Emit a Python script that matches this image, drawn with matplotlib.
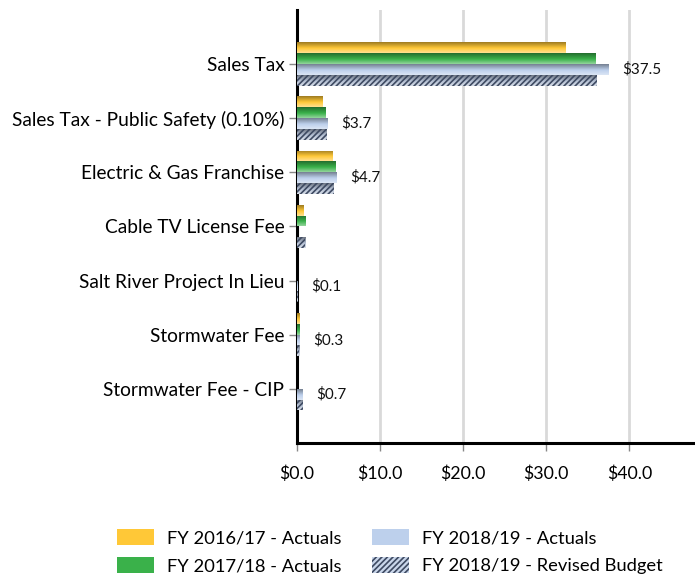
import matplotlib
matplotlib.use("Agg")
import matplotlib.pyplot as plt
import numpy as np
from matplotlib.colors import to_rgb
from matplotlib.patches import Patch

plt.rcParams['font.family'] = ['Lato', 'DejaVu Sans']

categories = ['Sales Tax', 'Sales Tax - Public Safety (0.10%)', 'Electric & Gas Franchise',
              'Cable TV License Fee', 'Salt River Project In Lieu', 'Stormwater Fee',
              'Stormwater Fee - CIP']
fy17_actual = [32.3, 3.1, 4.3, 0.8, 0.0, 0.3, 0.0]
fy18_actual = [35.9, 3.4, 4.6, 1.0, 0.0, 0.3, 0.0]
fy19_actual = [37.5, 3.7, 4.7, np.nan, 0.1, 0.3, 0.7]
fy19_budget = [36.1, 3.6, 4.4, 1.0, 0.1, 0.3, 0.7]
series_names = ['FY 2016/17 - Actuals', 'FY 2017/18 - Actuals',
                'FY 2018/19 - Actuals', 'FY 2018/19 - Revised Budget']
xticks = [0, 10, 20, 30, 40]

colors = ['#FFC837', '#3AB14A', '#BDD0EC', '#B4C0D4']
hatch_color = '#3E4A62'


def gradient_fill(ax, bar, base):
    # Excel-like shading: lighter top, darker bottom
    c = np.array(to_rgb(base))
    top = c + (1 - c) * 0.45
    bot = c * 0.62
    n = 32
    t = np.linspace(0, 1, n)[:, None]
    first = np.clip(top + (c - top) * np.clip(t / 0.45, 0, 1), 0, 1)
    second = np.clip(c + (bot - c) * np.clip((t - 0.45) / 0.55, 0, 1), 0, 1)
    rgb = np.where(t < 0.45, first, second)
    img = rgb[:, None, :]
    x0, y0 = bar.get_x(), bar.get_y()
    w, h = bar.get_width(), bar.get_height()
    if not np.isfinite(w) or w <= 0:
        return
    im = ax.imshow(img, extent=(x0, x0 + w, y0 + h, y0), aspect='auto',
                   origin='lower', zorder=3, interpolation='bilinear')
    im.set_clip_path(bar)


fig, ax = plt.subplots(figsize=(6.95, 5.79), dpi=100)
fig.subplots_adjust(left=0.4273, right=1.0, top=0.983, bottom=0.235)

y = np.arange(len(categories))
h = 0.2
plt.rcParams['hatch.linewidth'] = 1.2
all_series = [fy17_actual, fy18_actual, fy19_actual, fy19_budget]
for i, vals in enumerate(all_series):
    bars = ax.barh(y - 0.3 + i * h, vals, height=h, color=colors[i],
                   linewidth=0, zorder=2)
    for b in bars:
        gradient_fill(ax, b, colors[i])
    if i == 3:
        ax.barh(y - 0.3 + i * h, vals, height=h, facecolor='none',
                edgecolor=hatch_color, hatch='//////', linewidth=0, zorder=4)

for yi, v in zip(y, fy19_actual):
    if np.isfinite(v):
        ax.annotate(f'${v:.1f}', xy=(v, yi + 0.1), xytext=(10, 0),
                    textcoords='offset points', va='center', ha='left',
                    fontsize=11, color='#111111')

ax.set_ylim(len(categories), -1)
ax.set_xlim(0, 47.9)
ax.set_yticks(y)
ax.set_yticklabels(categories, fontsize=13.8)
ax.set_xticks(xticks)
ax.set_xticklabels([f'${t:.1f}' for t in xticks], fontsize=12.8)
ax.tick_params(axis='y', length=6, color='#888888', width=1, pad=3)
ax.tick_params(axis='x', length=6, color='#888888', width=1, pad=10)

ax.grid(axis='x', color='#D9D9D9', linewidth=2, zorder=0)
ax.set_axisbelow(True)
for s in ['top', 'right']:
    ax.spines[s].set_visible(False)
ax.spines['left'].set_linewidth(2.2)
ax.spines['bottom'].set_linewidth(2.2)

handles = [Patch(facecolor=colors[0], edgecolor='none'),
           Patch(facecolor=colors[1], edgecolor='none'),
           Patch(facecolor=colors[2], edgecolor='none'),
           Patch(facecolor='#C9D6EA', edgecolor=hatch_color, hatch='//////', linewidth=0)]
fig.legend(handles, series_names, loc='lower left', bbox_to_anchor=(0.145, -0.02),
           ncol=2, frameon=False, fontsize=13.2, handlelength=2.0, handleheight=1.0,
           columnspacing=1.7, labelspacing=0.55, handletextpad=0.7)

fig.savefig('out.png', dpi=100)
